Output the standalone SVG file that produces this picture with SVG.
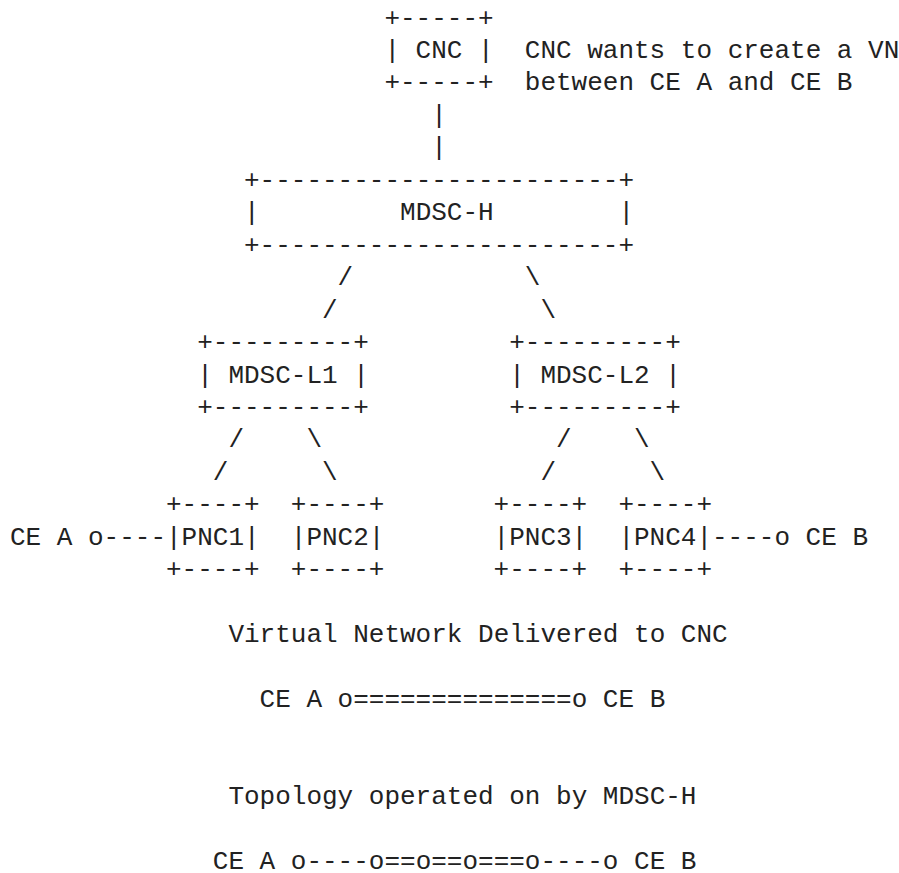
<svg xmlns="http://www.w3.org/2000/svg" width="899" height="873" viewBox="0 0 899 873">
<style>
text { font-family: "Liberation Mono", "DejaVu Sans Mono", monospace; font-size: 26px; fill: #222; white-space: pre; }
</style>
<rect width="899" height="873" fill="#fff"/>
<g id="cnc">
<text x="384.4" y="25.5" xml:space="preserve">+-----+</text>
<text x="384.4" y="58" xml:space="preserve">| CNC |</text>
<text x="384.4" y="90.4" xml:space="preserve">+-----+</text>
</g>
<g id="cnc-note">
<text x="524.8" y="58" xml:space="preserve">CNC wants to create a VN</text>
<text x="524.8" y="90.4" xml:space="preserve">between CE A and CE B</text>
</g>
<g id="mdsc-h">
<text x="244" y="187.8" xml:space="preserve">+-----------------------+</text>
<text x="244" y="220.2" xml:space="preserve">|         MDSC-H        |</text>
<text x="244" y="252.7" xml:space="preserve">+-----------------------+</text>
</g>
<g id="mdsc-l1">
<text x="197.2" y="350" xml:space="preserve">+---------+</text>
<text x="197.2" y="382.5" xml:space="preserve">| MDSC-L1 |</text>
<text x="197.2" y="414.9" xml:space="preserve">+---------+</text>
</g>
<g id="mdsc-l2">
<text x="509.2" y="350" xml:space="preserve">+---------+</text>
<text x="509.2" y="382.5" xml:space="preserve">| MDSC-L2 |</text>
<text x="509.2" y="414.9" xml:space="preserve">+---------+</text>
</g>
<g id="pnc1">
<text x="166" y="512.3" xml:space="preserve">+----+</text>
<text x="166" y="544.7" xml:space="preserve">|PNC1|</text>
<text x="166" y="577.2" xml:space="preserve">+----+</text>
</g>
<g id="pnc2">
<text x="290.8" y="512.3" xml:space="preserve">+----+</text>
<text x="290.8" y="544.7" xml:space="preserve">|PNC2|</text>
<text x="290.8" y="577.2" xml:space="preserve">+----+</text>
</g>
<g id="pnc3">
<text x="493.6" y="512.3" xml:space="preserve">+----+</text>
<text x="493.6" y="544.7" xml:space="preserve">|PNC3|</text>
<text x="493.6" y="577.2" xml:space="preserve">+----+</text>
</g>
<g id="pnc4">
<text x="618.4" y="512.3" xml:space="preserve">+----+</text>
<text x="618.4" y="544.7" xml:space="preserve">|PNC4|</text>
<text x="618.4" y="577.2" xml:space="preserve">+----+</text>
</g>
<g id="ce-a">
<text x="10" y="544.7" xml:space="preserve">CE A o</text>
</g>
<g id="ce-b">
<text x="774.4" y="544.7" xml:space="preserve">o CE B</text>
</g>
<g id="connectors">
<text x="431.2" y="122.9">|</text>
<text x="431.2" y="155.3">|</text>
<text x="337.6" y="285.1">/</text>
<text x="524.8" y="285.1">\</text>
<text x="322" y="317.6">/</text>
<text x="540.4" y="317.6">\</text>
<text x="228.4" y="447.4">/</text>
<text x="306.4" y="447.4">\</text>
<text x="212.8" y="479.8">/</text>
<text x="322" y="479.8">\</text>
<text x="556" y="447.4">/</text>
<text x="634" y="447.4">\</text>
<text x="540.4" y="479.8">/</text>
<text x="649.6" y="479.8">\</text>
<text x="103.6" y="544.7">----</text>
<text x="712" y="544.7">----</text>
</g>
<g id="virtual-network">
<text x="228.4" y="642.1" xml:space="preserve">Virtual Network Delivered to CNC</text>
<text x="259.6" y="707" xml:space="preserve">CE A o==============o CE B</text>
</g>
<g id="topology">
<text x="228.4" y="804.3" xml:space="preserve">Topology operated on by MDSC-H</text>
<text x="212.8" y="869.2" xml:space="preserve">CE A o----o==o==o===o----o CE B</text>
</g>
</svg>
